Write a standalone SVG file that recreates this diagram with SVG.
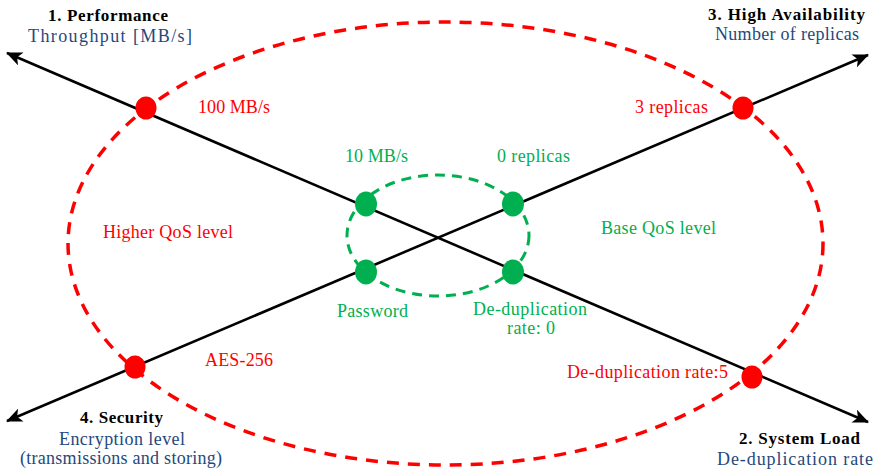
<svg xmlns="http://www.w3.org/2000/svg" width="877" height="471" viewBox="0 0 877 471">
  <defs>
    <marker id="arrow" viewBox="0 0 16 14" refX="15" refY="7" markerWidth="16" markerHeight="14" markerUnits="userSpaceOnUse" orient="auto-start-reverse">
      <path d="M0,0 L16,7 L0,14 L4,7 Z" fill="#000"/>
    </marker>
    <style>
      text { font-family: "Liberation Serif", "Times New Roman", serif; font-size: 18px; }
      .title { font-weight: bold; fill: #000; font-size: 17px; }
      .sub { fill: #1F497D; }
      .red { fill: #FF0000; }
      .green { fill: #00B050; }
      .axis { stroke: #000; stroke-width: 2.6; fill: none; marker-start: url(#arrow); marker-end: url(#arrow); }
      .ring-red { fill: none; stroke: #FF0000; stroke-width: 3.5; stroke-dasharray: 12 9; }
      .ring-green { fill: none; stroke: #00B050; stroke-width: 3; stroke-dasharray: 10 7; }
      .dot-red { fill: #FF0000; }
      .dot-green { fill: #00B050; }
    </style>
  </defs>
  <rect width="877" height="471" fill="#fff"/>

  <!-- QoS boundaries -->
  <g id="levels">
    <ellipse class="ring-red" cx="445.5" cy="243.5" rx="377.5" ry="221.5"/>
    <ellipse class="ring-green" cx="438" cy="235.5" rx="91" ry="60.5"/>
  </g>

  <!-- the two double-headed axes -->
  <g id="connectors">
    <line class="axis" x1="7" y1="53" x2="868" y2="422"/>
    <line class="axis" x1="7" y1="421" x2="868" y2="55"/>
  </g>

  <!-- axis titles -->
  <g id="axis-performance">
    <text class="title" x="48" y="21" textLength="120" lengthAdjust="spacing">1. Performance</text>
    <text class="sub" x="28" y="42" textLength="164" lengthAdjust="spacing">Throughput [MB/s]</text>
  </g>
  <g id="axis-availability">
    <text class="title" x="708" y="20" textLength="157" lengthAdjust="spacing">3. High Availability</text>
    <text class="sub" x="715" y="40" textLength="144" lengthAdjust="spacing">Number of replicas</text>
  </g>
  <g id="axis-security">
    <text class="title" x="80" y="423" textLength="83" lengthAdjust="spacing">4. Security</text>
    <text class="sub" x="59" y="445" textLength="126" lengthAdjust="spacing">Encryption level</text>
    <text class="sub" x="20" y="464" textLength="202" lengthAdjust="spacing">(transmissions and storing)</text>
  </g>
  <g id="axis-load">
    <text class="title" x="739" y="444" textLength="121" lengthAdjust="spacing">2. System Load</text>
    <text class="sub" x="717" y="465" textLength="156" lengthAdjust="spacing">De-duplication rate</text>
  </g>

  <!-- higher QoS points -->
  <g id="high-throughput">
    <ellipse class="dot-red" cx="146" cy="108" rx="10.5" ry="11.5"/>
    <text class="red" x="198" y="113" textLength="72" lengthAdjust="spacing">100 MB/s</text>
  </g>
  <g id="high-replicas">
    <ellipse class="dot-red" cx="743" cy="108" rx="10.5" ry="11.5"/>
    <text class="red" x="635" y="113" textLength="73" lengthAdjust="spacing">3 replicas</text>
  </g>
  <g id="high-security">
    <ellipse class="dot-red" cx="135" cy="367" rx="10.5" ry="11.5"/>
    <text class="red" x="205" y="366" textLength="68" lengthAdjust="spacing">AES-256</text>
  </g>
  <g id="high-dedup">
    <ellipse class="dot-red" cx="752" cy="377" rx="10.5" ry="11.5"/>
    <text class="red" x="567" y="378" textLength="161" lengthAdjust="spacing">De-duplication rate:5</text>
  </g>
  <g id="higher-level-label">
    <text class="red" x="103" y="238" textLength="130" lengthAdjust="spacing">Higher QoS level</text>
  </g>

  <!-- base QoS points -->
  <g id="base-throughput">
    <ellipse class="dot-green" cx="366" cy="204" rx="11" ry="12.5"/>
    <text class="green" x="345" y="162" textLength="63" lengthAdjust="spacing">10 MB/s</text>
  </g>
  <g id="base-replicas">
    <ellipse class="dot-green" cx="513" cy="204" rx="11" ry="12.5"/>
    <text class="green" x="497" y="162" textLength="73" lengthAdjust="spacing">0 replicas</text>
  </g>
  <g id="base-security">
    <ellipse class="dot-green" cx="366" cy="272" rx="11" ry="12.5"/>
    <text class="green" x="337" y="317" textLength="71" lengthAdjust="spacing">Password</text>
  </g>
  <g id="base-dedup">
    <ellipse class="dot-green" cx="513" cy="272" rx="11" ry="12.5"/>
    <text class="green" x="473" y="315" textLength="114" lengthAdjust="spacing">De-duplication</text>
    <text class="green" x="507" y="334" textLength="48" lengthAdjust="spacing">rate: 0</text>
  </g>
  <g id="base-level-label">
    <text class="green" x="601" y="234" textLength="115" lengthAdjust="spacing">Base QoS level</text>
  </g>
</svg>
